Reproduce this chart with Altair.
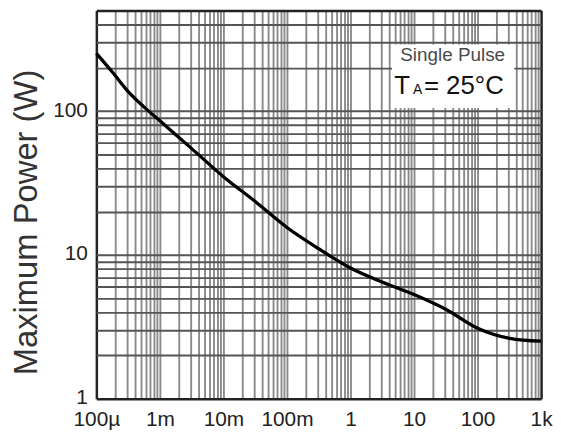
import altair as alt
import pandas as pd

# ---- data ----
pulse_time = [1e-4, 1.8e-4, 3.2e-4, 5.6e-4, 1e-3, 3.2e-3, 1e-2, 3.2e-2, 0.1, 0.32, 1,
              3.2, 10, 32, 100, 320, 1000]
max_power = [252, 186, 136, 107, 85.5, 54.6, 35, 23.4, 15.5, 11.0, 8.1,
             6.45, 5.3, 4.17, 3.09, 2.63, 2.51]

x_tick_values = [1e-4, 1e-3, 1e-2, 1e-1, 1, 10, 100, 1000]
x_tick_labels = ["100µ", "1m", "10m", "100m", "1", "10", "100", "1k"]
y_tick_values = [1, 10, 100]
y_tick_labels = ["1", "10", "100"]
y_top = 500

# annotation box (data units) and its texts
box_x = [4.5, 380]
box_y = [105, 290]
note_title = "Single Pulse"
note_title_pos = [40.6, 245]
note_t = ["T", "A", "= 25°C"]
note_t_x = [4.87, 9.65, 14.3]
note_t_y = 132
note_t_size = [26, 14, 26]

# ---- derived grid values (1..9 per decade) ----
x_grid = [m * d for d in x_tick_values[:-1] for m in range(1, 10)] + [x_tick_values[-1]]
y_grid = [m * d for d in y_tick_values[:-1] for m in range(1, 10)] + \
         [m * y_tick_values[-1] for m in range(1, 6)]


def label_expr(vals, labels):
    expr = "''"
    for v, l in reversed(list(zip(vals, labels))):
        tol = abs(v) * 1e-6
        expr = f"abs(datum.value - {v!r}) < {tol!r} ? '{l}' : ({expr})"
    return expr


def edge_test(lo, hi):
    return f"datum.value <= {lo * 1.000001!r} || datum.value >= {hi * 0.999999!r}"


FONT = "Liberation Sans"
FRAME = "#222222"

x_edge = edge_test(x_tick_values[0], x_tick_values[-1])
y_edge = edge_test(y_tick_values[0], y_top)

xscale = alt.Scale(type="log", domain=[x_tick_values[0], x_tick_values[-1]], nice=False)
yscale = alt.Scale(type="log", domain=[y_tick_values[0], y_top], nice=False)

xaxis = alt.Axis(values=x_grid, labelExpr=label_expr(x_tick_values, x_tick_labels),
                 grid=True,
                 gridColor={"condition": {"test": x_edge, "value": FRAME}, "value": "#8a8a8a"},
                 gridWidth={"condition": {"test": x_edge, "value": 2.5}, "value": 1.9},
                 gridOpacity=1,
                 ticks=False, tickSize=0, domain=False,
                 labelFont=FONT, labelFontSize=21, labelColor="#222",
                 labelPadding=10, labelFlush=False, labelOverlap=False, title=None)
yaxis = alt.Axis(values=y_grid, labelExpr=label_expr(y_tick_values, y_tick_labels),
                 grid=True,
                 gridColor={"condition": {"test": y_edge, "value": FRAME}, "value": "#555555"},
                 gridWidth={"condition": {"test": y_edge, "value": 2.5}, "value": 1.9},
                 gridOpacity=1,
                 ticks=False, tickSize=0, domain=False,
                 labelFont=FONT, labelFontSize=21, labelColor="#222",
                 labelPadding=9, labelOffset=-1, labelOverlap=False,
                 title="Maximum Power (W)", titleFont=FONT, titleFontSize=33,
                 titleFontWeight="normal", titleColor="#333",
                 titleX=-60, titleY=213, titleBaseline="alphabetic")

curve_df = pd.DataFrame({"t": pulse_time, "p": max_power})

curve = alt.Chart(curve_df).mark_line(color="#000", strokeWidth=3.3, interpolate="monotone").encode(
    x=alt.X("t:Q", scale=xscale, axis=xaxis),
    y=alt.Y("p:Q", scale=yscale, axis=yaxis),
)

box_df = pd.DataFrame({"x1": [box_x[0]], "x2": [box_x[1]], "y1": [box_y[0]], "y2": [box_y[1]]})
box = alt.Chart(box_df).mark_rect(fill="white").encode(
    x=alt.X("x1:Q", scale=xscale), x2="x2:Q",
    y=alt.Y("y1:Q", scale=yscale), y2="y2:Q",
)

title_df = pd.DataFrame({"x": [note_title_pos[0]], "y": [note_title_pos[1]], "s": [note_title]})
title_txt = alt.Chart(title_df).mark_text(font=FONT, fontSize=19, color="#4a4a4a",
                                          align="center", baseline="middle").encode(
    x=alt.X("x:Q", scale=xscale), y=alt.Y("y:Q", scale=yscale), text="s:N")

t_df = pd.DataFrame({"x": note_t_x, "y": [note_t_y] * 3, "s": note_t, "size": note_t_size})
t_txt = alt.Chart(t_df).mark_text(font=FONT, color="#111", align="left", baseline="alphabetic").encode(
    x=alt.X("x:Q", scale=xscale), y=alt.Y("y:Q", scale=yscale), text="s:N",
    size=alt.Size("size:Q", scale=None, legend=None))

chart = alt.layer(curve, box, title_txt, t_txt).properties(
    width=448, height=391,
    autosize=alt.AutoSizeParams(type="none"),
    padding={"left": 89, "top": 1, "right": 12, "bottom": 33},
).configure_view(stroke="transparent").configure(background="white")

chart.save("out.html", embed_options={"renderer": "svg", "actions": False})
